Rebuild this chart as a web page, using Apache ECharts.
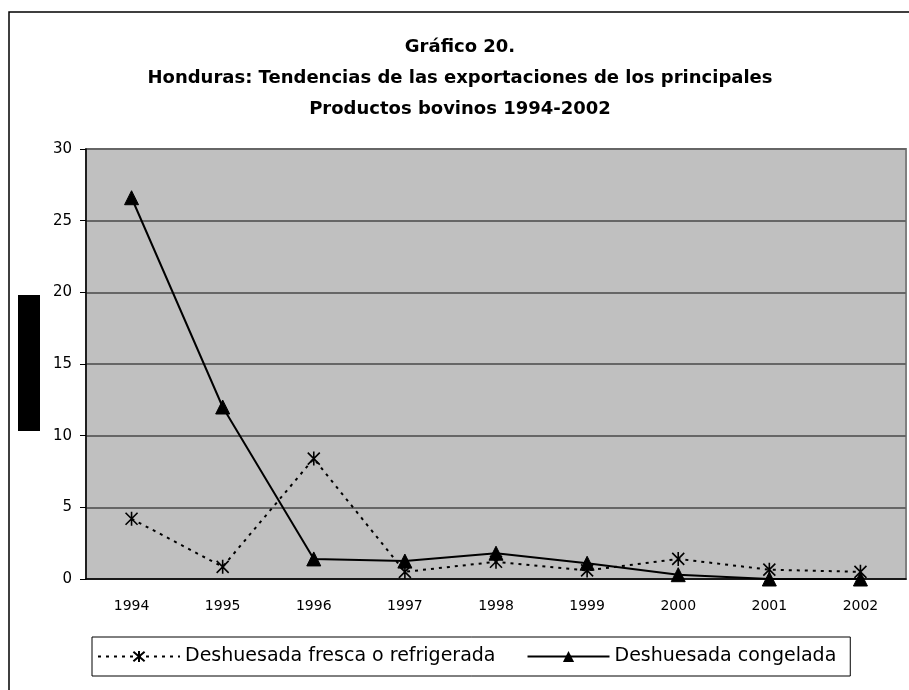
<!DOCTYPE html>
<html>
<head>
<meta charset="utf-8">
<script src="https://cdn.jsdelivr.net/npm/echarts@6/dist/echarts.min.js"></script>
<style>
  html, body { margin: 0; padding: 0; background: #fff; }
  #chart { width: 909px; height: 690px; }
</style>
</head>
<body>
<div id="chart"></div>
<script>
const years = ['1994', '1995', '1996', '1997', '1998', '1999', '2000', '2001', '2002'];
const fresca = [4.2, 0.85, 8.4, 0.5, 1.2, 0.6, 1.4, 0.65, 0.5];
const congelada = [26.6, 12.0, 1.4, 1.25, 1.8, 1.1, 0.3, 0, 0];
const yTicks = [0, 5, 10, 15, 20, 25, 30];

// asterisk marker: X with a vertical bar
const starPath = 'path://M0,-7 L0,7 M-6,-6 L6,6 M-6,6 L6,-6';

const chart = echarts.init(document.getElementById('chart'));

chart.setOption({
  animation: false,
  textStyle: { fontFamily: 'DejaVu Sans, sans-serif', color: '#000' },
  title: {
    text: 'Gráfico 20.\nHonduras: Tendencias de las exportaciones de los principales\nProductos bovinos 1994-2002',
    left: 455,
    top: 27,
    textAlign: 'center',
    textStyle: { fontSize: 18, fontWeight: 'bold', lineHeight: 31, color: '#000' }
  },
  graphic: [
    { type: 'polyline', shape: { points: [[9, 690], [9, 12], [909, 12]] }, style: { stroke: '#000', lineWidth: 1.5, fill: null } },
    { type: 'rect', shape: { x: 18, y: 295, width: 22, height: 136 }, style: { fill: '#000' } }
  ],
  grid: {
    left: 86, right: 3, top: 149, bottom: 111,
    show: true, backgroundColor: '#c0c0c0', borderColor: '#808080', borderWidth: 2
  },
  legend: {
    left: 92, top: 637,
    padding: [10, 14, 10, 5],
    backgroundColor: '#fff', borderColor: '#000', borderWidth: 1,
    itemWidth: 82, itemHeight: 14, itemGap: 31,
    textStyle: { fontSize: 19, color: '#000' },
    data: ['Deshuesada fresca o refrigerada', 'Deshuesada congelada']
  },
  xAxis: {
    type: 'category',
    data: years,
    boundaryGap: true,
    axisLine: { lineStyle: { color: '#000', width: 1.5 } },
    axisTick: { length: 5, lineStyle: { color: '#000' } },
    axisLabel: { fontSize: 14, color: '#000', margin: 20 },
    splitLine: { show: false }
  },
  yAxis: {
    type: 'value',
    min: yTicks[0], max: yTicks[yTicks.length - 1], interval: 5,
    axisLine: { show: true, lineStyle: { color: '#000', width: 1.5 } },
    axisTick: { show: true, length: 6, lineStyle: { color: '#000' } },
    axisLabel: { fontSize: 15, color: '#000', margin: 14 },
    splitLine: { lineStyle: { color: '#666', width: 2 } }
  },
  series: [
    {
      name: 'Deshuesada fresca o refrigerada',
      type: 'line',
      data: fresca,
      symbol: starPath,
      symbolSize: 14,
      symbolKeepAspect: true,
      itemStyle: { color: 'none', borderColor: '#000', borderWidth: 1.6 },
      lineStyle: { color: '#000', width: 2, type: [3, 5] },
      z: 3
    },
    {
      name: 'Deshuesada congelada',
      type: 'line',
      data: congelada,
      symbol: 'triangle',
      symbolSize: 14,
      itemStyle: { color: '#000', borderColor: '#000' },
      lineStyle: { color: '#000', width: 2 },
      z: 4
    }
  ]
});
</script>
</body>
</html>
